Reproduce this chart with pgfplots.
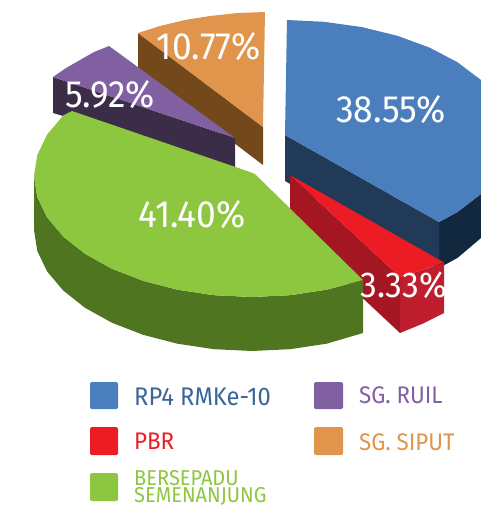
\documentclass[border=0pt]{standalone}
\usepackage{pgfplots}
\pgfplotsset{compat=1.18}
\usepackage{fontspec}
\setmainfont{Fira Sans}[FakeStretch=0.93]
\definecolor{cblue}{HTML}{4A7EBD}
\definecolor{cnavy}{HTML}{203A57}
\definecolor{cnavyb}{HTML}{12283F}
\definecolor{cred}{HTML}{ED1C24}
\definecolor{cdred}{HTML}{A51623}
\definecolor{cmred}{HTML}{BE1E2D}
\definecolor{cgreen}{HTML}{8DC63F}
\definecolor{cdgreen}{HTML}{507520}
\definecolor{cpurple}{HTML}{8060A0}
\definecolor{cdpurple}{HTML}{3B2C47}
\definecolor{corange}{HTML}{E0944C}
\definecolor{cbrown}{HTML}{73481B}
\begin{document}
\begin{tikzpicture}[x=1pt,y=1pt]
\useasboundingbox (0,0) rectangle (481,507);
\begin{axis}[at={(0,0)},anchor=south west,scale only axis,width=481pt,height=507pt,xmin=0,xmax=481,ymin=0,ymax=507,y dir=reverse,hide axis,clip mode=individual]
% orange slice
\addplot[draw=none,fill=cbrown] coordinates {(138,33)(263,127)(263,165)(138,70)} -- cycle;
\addplot[draw=none,fill=corange] coordinates {(138,33)(160,26)(185,20)(210,16)(238,13)(265,12)(263,127)} -- cycle;
% purple slice
\addplot[draw=none,fill=cdpurple] coordinates {(53,77)(235,138)(235,167)(53,113)} -- cycle;
\addplot[draw=none,fill=cpurple] coordinates {(53,77)(66,68)(80,60)(94,52)(109,46)(235,138)} -- cycle;
% blue slice
\addplot[draw=none,fill=cnavyb] coordinates {(439,222)(457.4,212)(481,194)(481,238)(457.4,258)(439,268)} -- cycle;
\addplot[draw=none,fill=cnavy] coordinates {(285,135)(439,222)(439,270)(285,181)} -- cycle;
\addplot[draw=none,fill=cblue] coordinates {(287,20)(324,21.8)(362,27.1)(397.5,35.8)(429.6,47.6)(457.4,62.2)(481,80)(481,194)(457.4,212)(439,222)(285,135)} -- cycle;
% red slice
\addplot[draw=none,fill=cmred] coordinates {(400,277)(422,270)(444,263)(444,313)(422,324)(400,333)} -- cycle;
\addplot[draw=none,fill=cdred] coordinates {(290,175)(400,277)(400,333)(290,230)} -- cycle;
\addplot[draw=none,fill=cred] coordinates {(290,175)(444,262.5)(422,270)(400,277)} -- cycle;
% green slice
\addplot[draw=none,fill=cdgreen] coordinates {(363,280)(326.6,289.7)(289.9,295.2)(252,297)(214.1,295.2)(177.4,289.7)(143,280.8)(111.9,268.7)(85,253.8)(63.2,236.5)(47.1,217.4)(37.3,197)(34,176)(34,230)(37.3,251)(47.1,271.4)(63.2,290.5)(85,307.8)(111.9,322.7)(143,334.8)(177.4,343.7)(214.1,349.2)(252,351)(289.9,349.2)(326.6,343.7)(363,333)} -- cycle;
\addplot[draw=none,fill=cgreen] coordinates {(72,111)(250,172)(255,174)(259,178)(363,280)(326.6,289.7)(289.9,295.2)(252,297)(214.1,295.2)(177.4,289.7)(143,280.8)(111.9,268.7)(85,253.8)(63.2,236.5)(47.1,217.4)(37.3,197)(34,176)(37.3,155)(47.1,134.6)(63.2,115.5)} -- cycle;
% legend swatches
\addplot[draw=none,fill=cblue,rounded corners=1.5pt] coordinates {(90,382)(118,382)(118,409)(90,409)} -- cycle;
\addplot[draw=none,fill=cred,rounded corners=1.5pt] coordinates {(90,427)(118,427)(118,455)(90,455)} -- cycle;
\addplot[draw=none,fill=cgreen,rounded corners=1.5pt] coordinates {(90,473)(118,473)(118,501)(90,501)} -- cycle;
\addplot[draw=none,fill=cpurple,rounded corners=1.5pt] coordinates {(314,382)(343,382)(343,409)(314,409)} -- cycle;
\addplot[draw=none,fill=corange,rounded corners=1.5pt] coordinates {(314,427)(343,427)(343,455)(314,455)} -- cycle;
% labels
\tikzset{pct/.style={text=white,font=\fontsize{38}{38}\selectfont,inner sep=0pt}}
\node[pct] at (axis cs:391,110) {38.55\%};
\node[pct] at (axis cs:209,47) {10.77\%};
\node[pct] at (axis cs:110,95) {5.92\%};
\node[pct] at (axis cs:192,215) {41.40\%};
\node[pct,font=\fontsize{36}{36}\selectfont] at (axis cs:404,285) {3.33\%};
\tikzset{leg/.style={anchor=west,font=\fontsize{24}{24}\selectfont,inner sep=0pt}}
\node[leg,text=cblue!80!black,font=\fontsize{25.5}{25.5}\selectfont] at (axis cs:134,397) {RP4 RMKe-10};
\node[leg,text=cred] at (axis cs:134,441) {PBR};
\node[leg,text=cgreen,align=left,font=\fontsize{21.5}{17}\selectfont] at (axis cs:134,488) {BERSEPADU\\SEMENANJUNG};
\node[leg,text=cpurple] at (axis cs:359,395) {SG. RUIL};
\node[leg,text=corange] at (axis cs:359,442) {SG. SIPUT};
\end{axis}
\end{tikzpicture}
\end{document}
